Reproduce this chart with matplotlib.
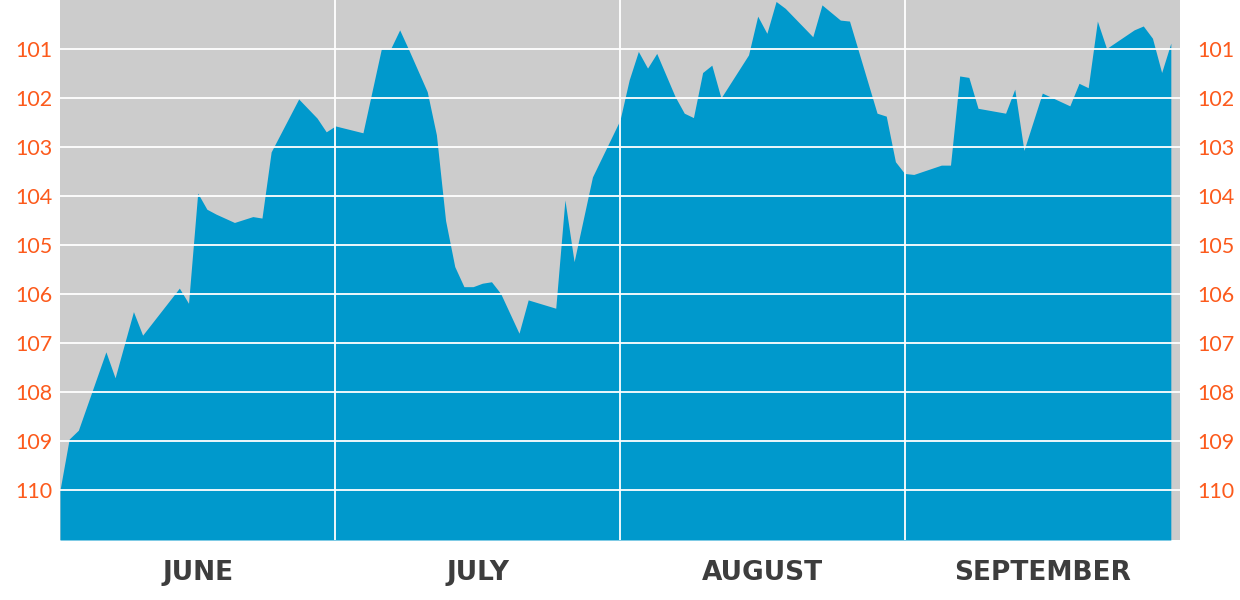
import matplotlib
matplotlib.use("Agg")
import matplotlib.pyplot as plt
from matplotlib.ticker import FixedLocator, NullFormatter, FixedFormatter

# ---- data (day offset from June 1, value on inverted scale) ----
days = [0, 1, 2, 5, 6, 8, 9, 13, 14, 15, 16, 17, 19, 21, 22, 23, 26, 28, 29, 30,
        33, 35, 36, 37, 38, 40, 41, 42, 43, 44, 45, 46, 47, 48, 50, 51, 54, 55, 56,
        58, 61, 62, 63, 64, 65, 67, 68, 69, 70, 71, 72, 75, 76, 77, 78, 79, 82, 83,
        85, 86, 89, 90, 91, 92, 93, 96, 97, 98, 99, 100, 103, 104, 105, 107, 110,
        111, 112, 113, 114, 117, 118, 119, 120, 121]
values = [110.0, 108.96, 108.78, 107.18, 107.71, 106.36, 106.84, 105.88, 106.19,
          103.94, 104.27, 104.37, 104.54, 104.42, 104.45, 103.1, 102.02, 102.41,
          102.69, 102.57, 102.71, 101.0, 101.0, 100.61, 101.02, 101.87, 102.75,
          104.5, 105.44, 105.85, 105.85, 105.78, 105.75, 105.99, 106.8, 106.12,
          106.29, 104.08, 105.34, 103.61, 102.45, 101.63, 101.05, 101.39, 101.09,
          101.97, 102.31, 102.4, 101.48, 101.33, 102.0, 101.12, 100.33, 100.68,
          100.03, 100.17, 100.75, 100.1, 100.41, 100.43, 102.31, 102.37, 103.3,
          103.54, 103.56, 103.37, 103.37, 101.55, 101.58, 102.21, 102.31, 101.82,
          103.07, 101.9, 102.16, 101.7, 101.79, 100.43, 100.99, 100.61, 100.53,
          100.78, 101.48, 100.88]

months = ["JUNE", "JULY", "AUGUST", "SEPTEMBER"]
month_starts = [0, 30, 61, 92, 122]
y_ticks = [101, 102, 103, 104, 105, 106, 107, 108, 109, 110]

# ---- style ----
BG = "#cccccc"
BLUE = "#0099cc"
ORANGE = "#fc5a1c"
DARK = "#3d3d3d"
Y_TOP, Y_BOTTOM = 100.0, 111.02

fig = plt.figure(figsize=(12.4, 6.0), dpi=100)
ax = fig.add_axes([60 / 1240, 60 / 600, 1120 / 1240, 540 / 600])
ax.set_facecolor(BG)

ax.fill_between(days, values, Y_BOTTOM, color=BLUE, linewidth=0, zorder=1)

ax.set_xlim(month_starts[0], month_starts[-1])
ax.set_ylim(Y_BOTTOM, Y_TOP)

# gridlines on top of fill
for y in y_ticks:
    ax.axhline(y, color="white", linewidth=1.3, zorder=3)
for x in month_starts[1:-1]:
    ax.axvline(x, color="white", linewidth=1.3, zorder=3)

for s in ax.spines.values():
    s.set_visible(False)

# y labels left
ax.set_yticks(y_ticks)
ax.set_yticklabels([str(v) for v in y_ticks])
ax.tick_params(axis="y", length=0, pad=5.6, labelsize=15.5, labelcolor=ORANGE)
for lbl in ax.get_yticklabels():
    lbl.set_fontfamily("Lato")

# y labels right
ax2 = ax.twinx()
ax2.set_ylim(Y_BOTTOM, Y_TOP)
ax2.set_yticks(y_ticks)
ax2.set_yticklabels([str(v) for v in y_ticks])
ax2.tick_params(axis="y", length=0, pad=12.4, labelsize=15.5, labelcolor=ORANGE)
for lbl in ax2.get_yticklabels():
    lbl.set_fontfamily("Lato")
for s in ax2.spines.values():
    s.set_visible(False)

# month labels centred in each month
mids = [(month_starts[i] + month_starts[i + 1]) / 2 for i in range(len(months))]
ax.xaxis.set_major_locator(FixedLocator(month_starts))
ax.xaxis.set_major_formatter(NullFormatter())
ax.xaxis.set_minor_locator(FixedLocator(mids))
ax.xaxis.set_minor_formatter(FixedFormatter(months))
ax.tick_params(axis="x", which="both", length=0)
ax.tick_params(axis="x", which="minor", pad=14.5, labelsize=19, labelcolor=DARK)
for lbl in ax.xaxis.get_minorticklabels():
    lbl.set_fontweight("bold")
    lbl.set_fontfamily("DejaVu Sans")

fig.savefig("out.png", dpi=100, facecolor="white")
